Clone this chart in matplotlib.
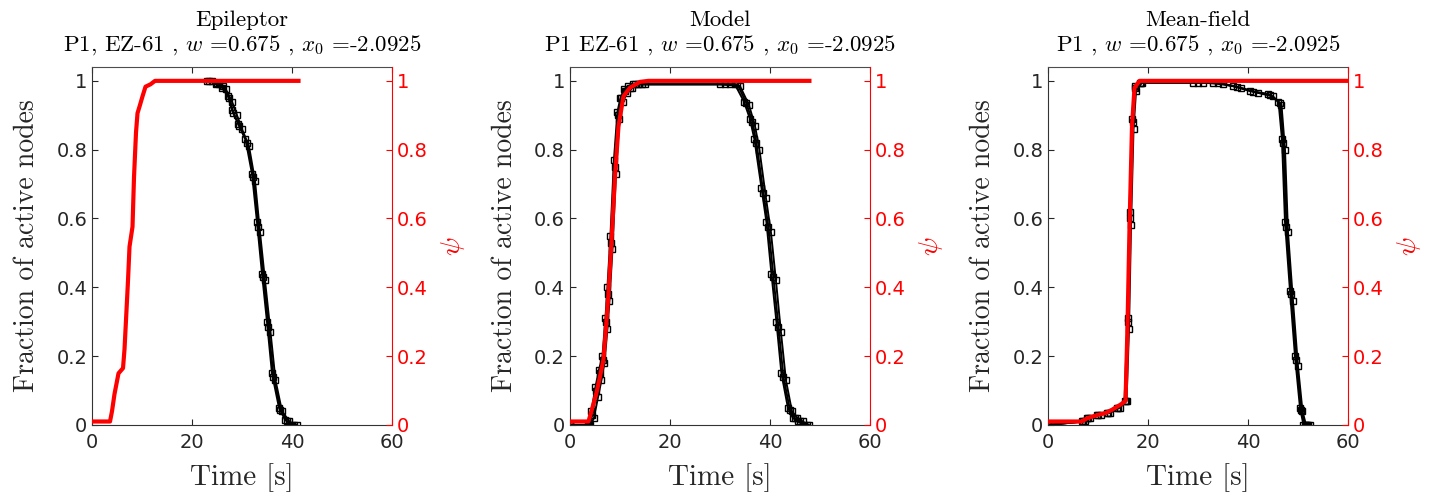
import matplotlib
matplotlib.use("Agg")
import matplotlib.pyplot as plt
import numpy as np

plt.rcParams['mathtext.fontset'] = 'cm'
plt.rcParams['axes.unicode_minus'] = False

titles = [
    "Epileptor\nP1, EZ-61 , $w$ =0.675 , $x_0$ =-2.0925",
    "Model\nP1 EZ-61 , $w$ =0.675 , $x_0$ =-2.0925",
    "Mean-field\nP1 , $w$ =0.675 , $x_0$ =-2.0925",
]

# psi (red) curves
psi_t = [
    [0, 3.6, 4.0, 4.5, 5.3, 6.2, 6.5, 6.8, 7.2, 7.5, 8.1, 8.4, 8.8, 9.1, 9.6, 10.1, 10.7, 11.7, 12.6, 41.3],
    [0, 3.7, 4.3, 5.3, 6.0, 6.7, 7.2, 7.7, 8.3, 9.0, 9.7, 10.7, 12.0, 14.0, 15.7, 47.9],
    [0, 6.7, 7.9, 10.2, 11.6, 12.9, 14.6, 15.5, 15.9, 16.3, 16.8, 17.3, 18.3, 60],
]
psi_y = [
    [0.01, 0.01, 0.04, 0.09, 0.15, 0.165, 0.22, 0.305, 0.42, 0.518, 0.576, 0.72, 0.85, 0.906, 0.93, 0.955, 0.983, 0.99, 1.0, 1.0],
    [0.01, 0.01, 0.04, 0.093, 0.14, 0.19, 0.28, 0.38, 0.53, 0.72, 0.867, 0.955, 0.98, 0.997, 1.0, 1.0],
    [0.01, 0.01, 0.02, 0.03, 0.035, 0.045, 0.06, 0.07, 0.29, 0.576, 0.87, 0.98, 1.0, 1.0],
]

# fraction of active nodes (black), several runs per panel
frac_t = [
    [
        [23.0, 25.0, 26.3, 27.5, 28.3, 29.5, 31.0, 32.3, 33.3, 34.3, 35.3, 36.3, 37.7, 39.0, 41.0],
        [24.0, 25.5, 26.8, 28.0, 29.0, 30.0, 31.4, 32.6, 33.6, 34.6, 35.7, 36.7, 38.0, 39.5, 40.5],
        [23.5, 24.8, 26.0, 27.2, 28.0, 29.2, 30.7, 32.0, 33.0, 34.0, 35.0, 36.0, 37.4, 38.6, 40.0],
    ],
    [
        [0, 3.8, 4.5, 5.3, 6.0, 6.7, 7.3, 7.7, 8.3, 9.0, 9.7, 10.3, 11.0, 12.0, 13.0, 15.0, 32.0, 33.5, 35.3, 36.5, 37.3, 38.7, 39.7, 40.7, 41.7, 42.7, 44.0, 45.0, 46.0, 47.8],
        [0, 4.1, 4.8, 5.6, 6.3, 6.9, 7.5, 7.9, 8.5, 9.2, 9.9, 10.6, 11.4, 12.5, 13.6, 14.5, 30.0, 34.0, 35.8, 37.0, 37.9, 39.2, 40.2, 41.2, 42.2, 43.2, 44.4, 45.5, 46.6, 47.5],
        [0, 3.6, 4.3, 5.1, 5.8, 6.5, 7.1, 7.5, 8.1, 8.8, 9.5, 10.1, 10.8, 11.7, 12.6, 13.8, 31.0, 33.0, 34.8, 36.0, 36.9, 38.3, 39.3, 40.3, 41.3, 42.3, 43.6, 44.6, 45.6, 46.8],
    ],
    [
        [0, 7.0, 8.0, 10.0, 12.0, 14.0, 15.5, 16.0, 16.4, 16.9, 17.4, 18.5, 30.0, 34.0, 37.7, 41.0, 44.4, 46.4, 47.1, 47.7, 48.7, 49.7, 50.7, 51.4, 52.4],
        [0, 7.3, 8.4, 10.5, 12.4, 14.3, 15.7, 16.2, 16.6, 17.1, 17.6, 18.8, 31.0, 35.0, 38.5, 42.0, 45.0, 46.7, 47.4, 48.0, 49.0, 50.0, 50.9, 51.6, 52.0],
        [0, 6.8, 7.8, 9.7, 11.7, 13.8, 15.3, 15.9, 16.3, 16.8, 17.3, 18.3, 29.0, 33.0, 37.0, 40.5, 44.0, 46.1, 46.8, 47.4, 48.4, 49.4, 50.4, 51.1, 51.8],
    ],
]
frac_y = [
    [
        [1.0, 0.995, 0.985, 0.95, 0.906, 0.87, 0.82, 0.72, 0.576, 0.43, 0.286, 0.14, 0.044, 0.01, 0.0],
        [1.0, 0.99, 0.975, 0.94, 0.9, 0.86, 0.81, 0.71, 0.56, 0.42, 0.27, 0.13, 0.04, 0.01, 0.0],
        [1.0, 0.99, 0.98, 0.955, 0.915, 0.875, 0.83, 0.73, 0.59, 0.44, 0.3, 0.15, 0.05, 0.015, 0.0],
    ],
    [
        [0, 0, 0.03, 0.1, 0.15, 0.19, 0.3, 0.38, 0.53, 0.75, 0.9, 0.95, 0.97, 0.98, 0.99, 0.99, 0.99, 0.99, 0.935, 0.88, 0.82, 0.674, 0.576, 0.43, 0.286, 0.14, 0.044, 0.02, 0.01, 0],
        [0, 0, 0.02, 0.08, 0.13, 0.18, 0.28, 0.36, 0.51, 0.73, 0.89, 0.94, 0.965, 0.98, 0.99, 0.99, 0.99, 0.985, 0.93, 0.87, 0.8, 0.66, 0.56, 0.42, 0.27, 0.13, 0.04, 0.02, 0.01, 0],
        [0, 0, 0.04, 0.11, 0.16, 0.2, 0.31, 0.4, 0.55, 0.77, 0.91, 0.95, 0.975, 0.985, 0.99, 0.99, 0.99, 0.99, 0.94, 0.89, 0.83, 0.69, 0.59, 0.44, 0.3, 0.15, 0.05, 0.02, 0.01, 0],
    ],
    [
        [0, 0.01, 0.02, 0.03, 0.035, 0.05, 0.07, 0.3, 0.6, 0.88, 0.98, 0.995, 0.995, 0.995, 0.983, 0.969, 0.96, 0.935, 0.82, 0.576, 0.38, 0.19, 0.044, 0.0, 0.0],
        [0, 0.01, 0.02, 0.03, 0.035, 0.05, 0.07, 0.28, 0.58, 0.86, 0.97, 0.995, 0.995, 0.99, 0.98, 0.965, 0.955, 0.93, 0.8, 0.56, 0.36, 0.17, 0.04, 0.0, 0.0],
        [0, 0.01, 0.02, 0.03, 0.035, 0.05, 0.07, 0.31, 0.62, 0.89, 0.985, 0.995, 0.995, 0.995, 0.985, 0.97, 0.962, 0.94, 0.83, 0.59, 0.39, 0.2, 0.05, 0.0, 0.0],
    ],
]

xticks = [0, 20, 40, 60]
yticks = [0, 0.2, 0.4, 0.6, 0.8, 1.0]
yticklabels = ['0', '0.2', '0.4', '0.6', '0.8', '1']

fig = plt.figure(figsize=(14.4, 4.97), dpi=100)
lefts = [0.0639, 0.3958, 0.7278]
serif = 'cmr10'

for k in range(3):
    ax = fig.add_axes([lefts[k], 0.145, 0.2083, 0.72])
    for tt, yy in zip(frac_t[k], frac_y[k]):
        ax.plot(tt, yy, '-', color='k', lw=1.4, marker='s', ms=4,
                mfc='none', mec='k', mew=1.0)
    ax.set_xlim(0, 60)
    ax.set_ylim(0, 1.04)
    ax.set_xticks(xticks)
    ax.set_yticks(yticks)
    ax.set_yticklabels(yticklabels)
    ax.tick_params(direction='in', labelsize=14, top=True, length=4, colors='0.15')
    ax.tick_params(axis='x', pad=6)
    ax.spines['top'].set_color('0.3')
    ax.spines['left'].set_color('0.2')
    ax.spines['bottom'].set_color('0.2')
    ax.spines['right'].set_visible(False)
    ax.set_xlabel("Time [s]", fontsize=21, family=serif, color='0.15', labelpad=8)
    ax.set_ylabel("Fraction of active nodes", fontsize=20, family=serif, color='0.15', labelpad=12)
    ax.set_title(titles[k], fontsize=16.5, family=serif, linespacing=1.15, pad=12)

    # red psi curve drawn on top of the black runs
    ax2 = ax.twinx()
    ax2.plot(psi_t[k], psi_y[k], '-', color='red', lw=3)
    ax2.set_ylim(0, 1.04)
    ax2.set_yticks(yticks)
    ax2.set_yticklabels(yticklabels)
    ax2.tick_params(direction='in', labelsize=14, colors='red', length=4)
    ax2.spines['right'].set_color('red')
    ax2.spines['top'].set_visible(False)
    ax2.spines['left'].set_visible(False)
    ax2.spines['bottom'].set_visible(False)
    ax2.set_ylabel(r"$\psi$", fontsize=20, color='red', labelpad=8)

fig.savefig("out.png", dpi=100, facecolor='white')
